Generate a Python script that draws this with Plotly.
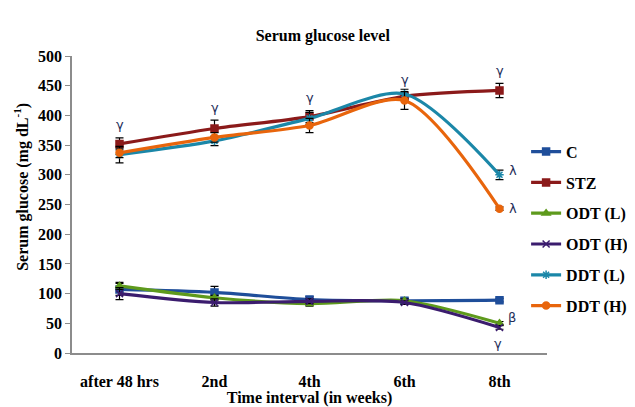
import plotly.graph_objects as go

categories = ["after 48 hrs", "2nd", "4th", "6th", "8th"]
series_names = ["C", "STZ", "ODT (L)", "ODT (H)", "DDT (L)", "DDT (H)"]
c_vals = [107, 102, 90, 88, 89]
stz_vals = [352, 378, 398, 432, 442]
odtl_vals = [113, 93, 83, 88, 50]
odth_vals = [100, 85, 87, 85, 43]
ddtl_vals = [334, 357, 395, 436, 300]
ddth_vals = [337, 363, 383, 425, 243]
c_err = [10, 10, 5, 4, 3]
stz_err = [10, 14, 10, 6, 12]
odtl_err = [6, 4, 4, 3, 3]
odth_err = [10, 6, 4, 3, 3]
ddtl_err = [14, 8, 10, 8, 8]
ddth_err = [8, 8, 12, 15, 3]

colors = ["#1F4E9A", "#8B1A1A", "#5E9A1C", "#3B1C6E", "#1B87A8", "#E8650C"]
symbols = ["square", "square", "triangle-up", "x-thin", "asterisk", "circle"]
vals = [c_vals, stz_vals, odtl_vals, odth_vals, ddtl_vals, ddth_vals]
errs = [c_err, stz_err, odtl_err, odth_err, ddtl_err, ddth_err]

font_fam = "Liberation Serif, Times New Roman, serif"
FS = 16
fig = go.Figure()
for name, v, e, col, sym in zip(series_names, vals, errs, colors, symbols):
    fig.add_trace(go.Scatter(
        x=categories, y=v, name="<b>" + name + "</b>", legendgroup=name, mode="lines+markers",
        line=dict(color=col, width=3.2, shape="spline", smoothing=0.8),
        marker=dict(symbol=sym, size=7, color=col, line=dict(color=col, width=1.5)),
        error_y=dict(type="data", array=e, color="black", thickness=1.2, width=4),
    ))

sym_font = dict(size=13, color="#1F2F5A", family="DejaVu Sans")
ann = []
for i, cat in enumerate(categories):
    ann.append(dict(x=cat, y=stz_vals[i] + stz_err[i], text="γ", showarrow=False,
                    yshift=13, font=sym_font))
ann.append(dict(x=categories[4], y=ddtl_vals[4], text="λ", showarrow=False, xshift=13, yshift=4,
                font=sym_font))
ann.append(dict(x=categories[4], y=ddth_vals[4], text="λ", showarrow=False, xshift=13, yshift=0,
                font=sym_font))
ann.append(dict(x=categories[4], y=odtl_vals[4], text="β", showarrow=False, xshift=12, yshift=6,
                font=sym_font))
ann.append(dict(x=categories[4], y=odth_vals[4], text="γ", showarrow=False, xshift=-2, yshift=-16,
                font=sym_font))
ann.append(dict(text="<b>Serum glucose (mg dL<sup>-1</sup>)</b>", textangle=-90, showarrow=False,
                xref="paper", yref="paper", x=-0.105, y=0.56, xanchor="center", yanchor="middle",
                font=dict(family=font_fam, size=FS, color="black")))

fig.update_layout(
    width=627, height=399,
    margin=dict(l=64, r=88, t=48, b=54, autoexpand=False),
    paper_bgcolor="white", plot_bgcolor="white",
    title=dict(text="<b>Serum glucose level</b>", xref="container", x=0.502, xanchor="center",
               yref="container", y=0.932, yanchor="middle",
               font=dict(family=font_fam, size=FS, color="black")),
    font=dict(family=font_fam, color="black"),
    annotations=ann,
    showlegend=True,
    legend=dict(x=0.956, xanchor="left", y=0.735, yanchor="top", tracegroupgap=7,
                font=dict(family=font_fam, size=FS, color="black"), itemwidth=30,
                bgcolor="rgba(0,0,0,0)"),
    xaxis=dict(range=[-0.5, 4.5], showgrid=False, showline=True, linecolor="#8C8C8C", linewidth=1.5,
               ticks="", ticklabelstandoff=13, tickfont=dict(family=font_fam, size=FS, color="black"),
               title=dict(text="<b>Time interval (in weeks)</b>", standoff=1,
                          font=dict(family=font_fam, size=FS, color="black"))),
    yaxis=dict(range=[0, 500], dtick=50, showgrid=False, showline=True, linecolor="#8C8C8C",
               linewidth=1.5, ticks="outside", ticklen=5, tickcolor="#8C8C8C",
               tickfont=dict(family=font_fam, size=FS, color="black"), zeroline=False),
)
fig.update_xaxes(tickprefix="<b>", ticksuffix="</b>")
fig.update_yaxes(tickprefix="<b>", ticksuffix="</b>")
fig.write_html("out.html")
